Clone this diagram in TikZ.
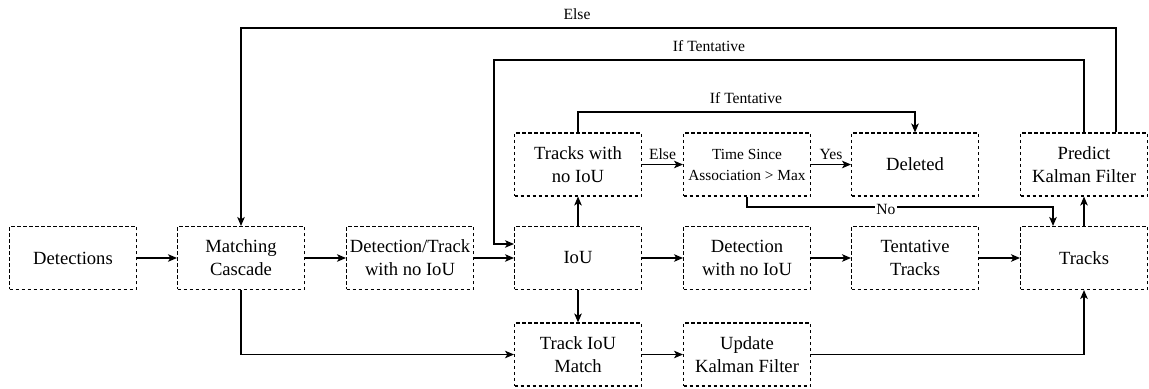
\documentclass[tikz,border=0pt]{standalone}
\usepackage{fontspec}
\setmainfont{Liberation Serif}
\usetikzlibrary{arrows.meta}
\begin{document}
\begin{tikzpicture}[x=0.5pt,y=-0.5pt,
  box/.style={draw, dash pattern=on 1.6pt off 1.4pt, line width=0.55pt,
    minimum width=63.5pt, minimum height=31.5pt, inner sep=1pt,
    align=center, font=\fontsize{9.3}{11.5}\selectfont},
  smallbox/.style={box, font=\fontsize{7.7}{10.5}\selectfont},
  arr/.style={line width=0.55pt, -{Stealth[length=4.5pt,width=3.8pt,inset=1.2pt]}},
  lbl/.style={font=\fontsize{7.8}{9}\selectfont, inner sep=1pt}]
\useasboundingbox (0,0) rectangle (1149,389);

% middle row
\node[box] (det)  at (73,258)   {Detections};
\node[box] (mc)   at (241,258)  {Matching\\Cascade};
\node[box] (dtn)  at (410,258)  {Detection/Track\\with no IoU};
\node[box] (iou)  at (578,258)  {IoU};
\node[box] (dnoi) at (747,258)  {Detection\\with no IoU};
\node[box] (tt)   at (915,258)  {Tentative\\Tracks};
\node[box] (tr)   at (1084,258) {Tracks};
% top row
\node[box] (tnoi) at (578,164.5)  {Tracks with\\no IoU};
\node[smallbox] (tsa) at (747,164.5) {Time Since\\Association > Max};
\node[box] (del)  at (915,164.5)  {Deleted};
\node[box] (pkf)  at (1084,164.5) {Predict\\Kalman Filter};
% bottom row
\node[box] (tim)  at (578,354.5) {Track IoU\\Match};
\node[box] (ukf)  at (747,354.5) {Update\\Kalman Filter};

% helper levels for the routed connectors
\coordinate (elseTop) at (0,28);
\coordinate (itTop)   at (0,60);
\coordinate (itX)     at (494,0);
\coordinate (delTop)  at (0,112);
\coordinate (noY)     at (0,207);
\coordinate (pe)      at ([xshift=16pt]pkf.north);
\coordinate (iouIn)   at ([yshift=7pt]iou.west);
\coordinate (trIn)    at ([xshift=-15.5pt]tr.north);

% straight flow
\draw[arr] (det) -- (mc);
\draw[arr] (mc) -- (dtn);
\draw[arr] (dtn) -- (iou);
\draw[arr] (iou) -- (dnoi);
\draw[arr] (dnoi) -- (tt);
\draw[arr] (tt) -- (tr);
\draw[arr] (iou) -- (tnoi);
\draw[arr] (iou) -- (tim);
\draw[arr] (tim) -- (ukf);
\draw[arr] (tr) -- (pkf);
\draw[arr] (tnoi) -- node[lbl, above=1pt] {Else} (tsa);
\draw[arr] (tsa) -- node[lbl, above=1pt] {Yes} (del);

% routed connectors
\draw[arr] (mc.south) |- (tim.west);
\draw[arr] (ukf.east) -| (tr.south);
\draw[arr] (tnoi.north) -- (tnoi.north |- delTop) -| (del.north);
\draw[arr] (tsa.south) -- (tsa.south |- noY) -- (trIn |- noY) -- (trIn);
\draw[arr] (pe) -- (pe |- elseTop) -| (mc.north);
\draw[arr] (pkf.north) -- (pkf.north |- itTop) -- (itX |- itTop) -- (itX |- iouIn) -- (iouIn);

% connector labels
\node[lbl] (lElse) at (577,14) {Else};
\node[lbl] (lIfT1) at (709,46) {If Tentative};
\node[lbl] (lIfT2) at (746,98) {If Tentative};
\node[lbl, fill=white, inner sep=0.5pt] (lNo) at (886,209) {No};
\end{tikzpicture}
\end{document}
